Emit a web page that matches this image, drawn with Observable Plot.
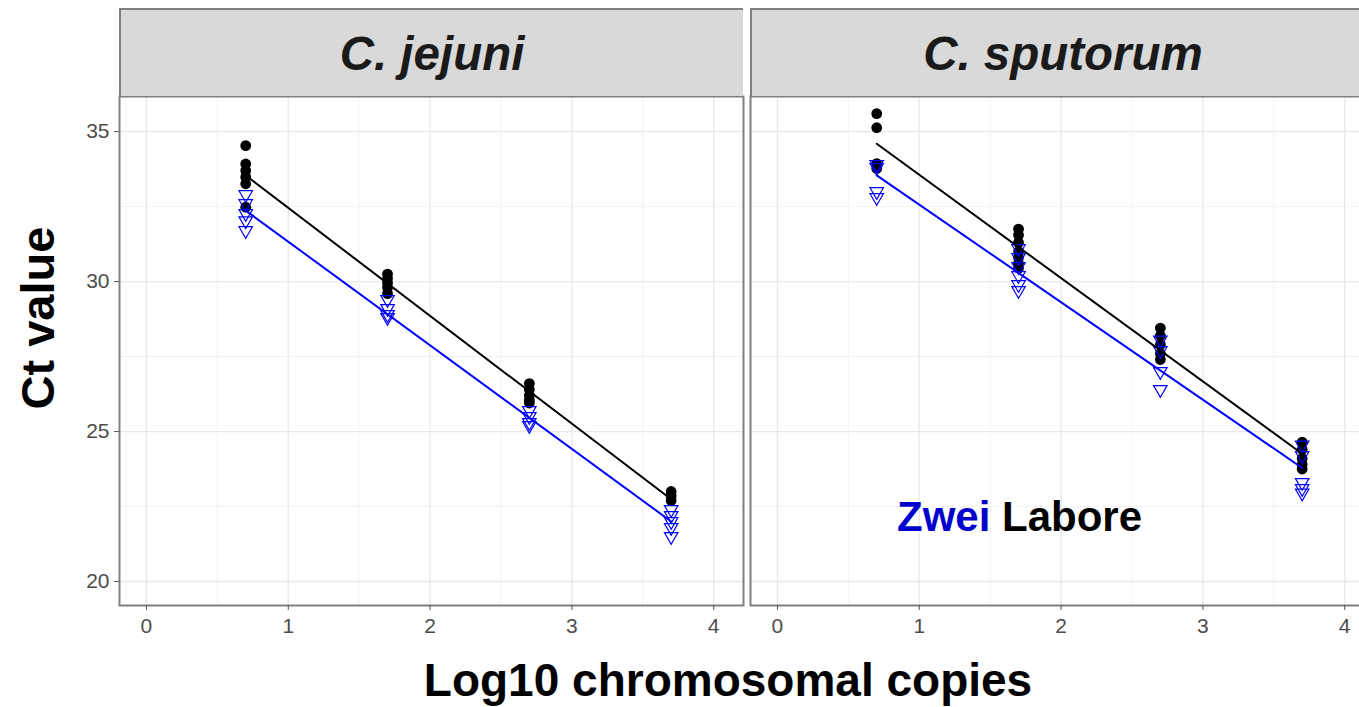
<!DOCTYPE html>
<html>
<head>
<meta charset="utf-8">
<script src="https://cdn.jsdelivr.net/npm/d3@7"></script>
<script src="https://cdn.jsdelivr.net/npm/@observablehq/plot@0.6"></script>
<style>
  html, body { margin: 0; padding: 0; overflow: hidden; background: #fff; }
  #wrap { position: relative; width: 1359px; height: 707px; overflow: hidden; background: #fff;
          font-family: "Liberation Sans", Arial, sans-serif; }
  .abs { position: absolute; }
  .strip { position: absolute; top: 8px; height: 88px; background: #d9d9d9;
           border-top: 2px solid #808080; border-left: 2px solid #808080; box-sizing: border-box;
           display: flex; align-items: center; justify-content: center;
           font-weight: bold; font-style: italic; font-size: 47.5px; color: #1a1a1a; }
  .big { font-weight: bold; font-size: 47px; color: #000; white-space: nowrap; line-height: 1; }
</style>
</head>
<body>
<div id="wrap"></div>
<script>
// ---- data ----
const panels = ["C. jejuni", "C. sputorum"];
const seriesNames = ["Zwei", "Labore"];
const xLevels = [0.7, 1.7, 2.7, 3.7];
const xTicks = [0, 1, 2, 3, 4];
const xMinor = [0.5, 1.5, 2.5, 3.5];
const yTicks = [20, 25, 30, 35];
const yMinor = [22.5, 27.5, 32.5];

// Ct values per x level (black series = "Labore", blue series = "Zwei")
const jejuniBlack = [
  [34.53, 33.92, 33.7, 33.48, 33.26, 32.48],
  [30.25, 30.1, 29.95, 29.8, 29.6],
  [26.6, 26.4, 26.2, 26.05, 25.95],
  [23.0, 22.85, 22.7]
];
const jejuniBlue = [
  [32.9, 32.6, 32.27, 32.03, 31.7],
  [29.4, 29.1, 28.9, 28.8],
  [25.7, 25.5, 25.3, 25.2],
  [22.4, 22.2, 22.0, 21.8, 21.5]
];
const sputorumBlack = [
  [35.6, 35.13, 33.93, 33.77],
  [31.75, 31.55, 31.3, 31.0, 30.8, 30.6, 30.45],
  [28.45, 28.2, 27.9, 27.6, 27.4],
  [24.65, 24.4, 24.1, 23.9, 23.75]
];
const sputorumBlue = [
  [33.9, 33.8, 33.0, 32.8],
  [31.1, 30.8, 30.5, 30.2, 29.9, 29.7],
  [28.05, 27.7, 27.0, 26.4],
  [24.55, 24.2, 23.3, 23.1, 22.95]
];

function rows(groups) {
  const out = [];
  groups.forEach((vals, i) => vals.forEach(v => out.push({x: xLevels[i], y: v})));
  return out;
}

const triangleDown = {
  draw(ctx, size) {
    const a = Math.sqrt(size * 4 / Math.sqrt(3));
    const h = a * Math.sqrt(3) / 2;
    ctx.moveTo(-a / 2, -h / 3);
    ctx.lineTo(a / 2, -h / 3);
    ctx.lineTo(0, 2 * h / 3);
    ctx.closePath();
  }
};

function panel(black, blue, opts) {
  const b = rows(black), u = rows(blue);
  return Plot.plot({
    width: opts.width,
    height: 640,
    marginTop: 96,
    marginBottom: 35,
    marginLeft: opts.marginLeft,
    marginRight: opts.marginRight,
    style: {fontFamily: "'Liberation Sans', Arial, sans-serif", fontSize: "21px", color: "#4d4d4d", background: "transparent", overflow: "visible"},
    x: {domain: [-0.19, 4.21], label: null, axis: null},
    y: {domain: [19.2, 36.17], label: null, axis: null},
    marks: [
      Plot.ruleX(xMinor, {stroke: "#f3f3f3", strokeWidth: 1}),
      Plot.ruleY(yMinor, {stroke: "#f3f3f3", strokeWidth: 1}),
      Plot.ruleX(xTicks, {stroke: "#e8e8e8", strokeWidth: 1.3}),
      Plot.ruleY(yTicks, {stroke: "#e8e8e8", strokeWidth: 1.3}),
      Plot.frame({stroke: "#808080", strokeWidth: 2}),
      Plot.axisX({ticks: xTicks, tickFormat: d => String(d), tickSize: 5, tickPadding: 8, stroke: "#555", label: null}),
      opts.yAxis ? Plot.axisY({ticks: yTicks, tickFormat: d => String(d), tickSize: 5, tickPadding: 5, stroke: "#555", label: null}) : null,
      Plot.dot(b, {x: "x", y: "y", r: 5.4, fill: "#000", stroke: "none"}),
      Plot.dot(u, {x: "x", y: "y", r: 5, symbol: triangleDown, fill: "none", stroke: "#0000ff", strokeWidth: 1.2}),
      Plot.linearRegressionY(b, {x: "x", y: "y", stroke: "#000", strokeWidth: 2, ci: 0}),
      Plot.linearRegressionY(u, {x: "x", y: "y", stroke: "#0000ff", strokeWidth: 2, ci: 0})
    ]
  });
}

const wrap = document.getElementById("wrap");

const left = panel(jejuniBlack, jejuniBlue, {width: 744, marginLeft: 119, marginRight: 1, yAxis: true});
left.style.position = "absolute"; left.style.left = "0px"; left.style.top = "0px";
wrap.appendChild(left);

const right = panel(sputorumBlack, sputorumBlue, {width: 626, marginLeft: 1, marginRight: 1, yAxis: false});
right.style.position = "absolute"; right.style.left = "749px"; right.style.top = "0px";
wrap.appendChild(right);

// strips
function strip(text, x, w) {
  const d = document.createElement("div");
  d.className = "strip";
  d.style.left = x + "px";
  d.style.width = w + "px";
  d.textContent = text;
  wrap.appendChild(d);
}
strip(panels[0], 119, 624);
strip(panels[1], 750, 624);

// axis titles
const yl = document.createElement("div");
yl.className = "abs big";
yl.textContent = "Ct value";
yl.style.left = "37px"; yl.style.top = "318px";
yl.style.transform = "translate(-50%, -50%) rotate(-90deg)";
wrap.appendChild(yl);

const xl = document.createElement("div");
xl.className = "abs big";
xl.textContent = "Log10 chromosomal copies";
xl.style.fontSize = "46px";
xl.style.left = "728px"; xl.style.top = "657px";
xl.style.transform = "translateX(-50%)";
wrap.appendChild(xl);

// legend label
const lg = document.createElement("div");
lg.className = "abs";
lg.style.left = "897px"; lg.style.top = "517px";
lg.style.transform = "translateY(-50%)";
lg.style.fontWeight = "bold"; lg.style.fontSize = "42px"; lg.style.whiteSpace = "nowrap";
lg.innerHTML = `<span style="color:#0000cc">${seriesNames[0]}</span> <span style="color:#000">${seriesNames[1]}</span>`;
wrap.appendChild(lg);
</script>
</body>
</html>
